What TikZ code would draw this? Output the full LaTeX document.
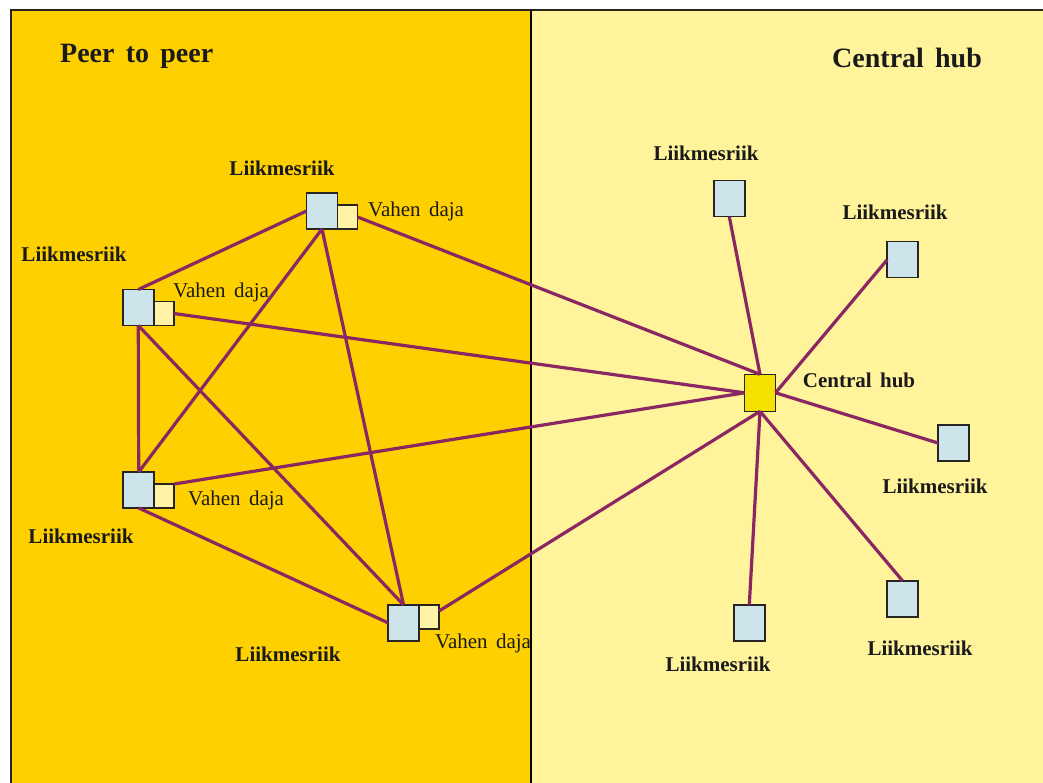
\documentclass[tikz,border=0pt]{standalone}
\usepackage{fontspec}
\setmainfont{Liberation Serif}[WordSpace=1.6]
\usepackage{tikz}
\usetikzlibrary{positioning}
\definecolor{panelgold}{RGB}{255,208,0}
\definecolor{panelpale}{RGB}{255,243,155}
\definecolor{boxblue}{RGB}{205,228,235}
\definecolor{gatecream}{RGB}{255,243,165}
\definecolor{hubyellow}{RGB}{245,225,0}
\definecolor{linkpurple}{RGB}{138,38,98}
\definecolor{edgegray}{RGB}{40,36,36}
\definecolor{inkdark}{RGB}{26,26,26}

\begin{document}
\begin{tikzpicture}[
    x=1pt, y=-1pt,
    member/.style={draw=edgegray, line width=1.6pt, fill=boxblue,
      minimum width=31pt, minimum height=36pt, inner sep=0pt, outer sep=0pt},
    gateway/.style={draw=edgegray, line width=1.6pt, fill=gatecream,
      minimum width=20pt, minimum height=24pt, inner sep=0pt, outer sep=0pt},
    hubbox/.style={member, fill=hubyellow, minimum height=37pt},
    link/.style={linkpurple, line width=3.2pt},
    tag/.style={font=\fontsize{21}{24}\selectfont\bfseries, text=inkdark,
      inner sep=0pt, anchor=base},
    gatetag/.style={font=\fontsize{21}{24}\selectfont, text=inkdark,
      inner sep=0pt, anchor=base west},
    paneltitle/.style={font=\fontsize{28}{32}\selectfont\bfseries, text=inkdark,
      inner sep=0pt, anchor=base west}
    ]

    \useasboundingbox (0,0) rectangle (1043,783);
    \fill[white] (0,0) rectangle (1043,783);
    \fill[panelgold] (11,10) rectangle (531,783);
    \fill[panelpale] (531,10) rectangle (1043,783);
    \draw[edgegray, line width=1.5pt] (11,783) -- (11,10) -- (1043,10);
    \draw[black, line width=2.5pt] (531,10) -- (531,783);

    \node[paneltitle] (p2p) at (60,63) {Peer to peer};
    \node[paneltitle] (hubtitle) at (832,68) {Central hub};

    % peer to peer
    \node[member] (A) at (322,211) {};
    \node[gateway, anchor=south west] (Ay) at (A.south east) {};
    \node[member] (B) at (138.3,307.5) {};
    \node[gateway, anchor=south west] (By) at (B.south east) {};
    \node[member] (C) at (138.7,490) {};
    \node[gateway, anchor=south west] (Cy) at (C.south east) {};
    \node[member] (D) at (403.5,622.8) {};
    \node[gateway, anchor=north west] (Dy) at (D.north east) {};

    \node[tag] (Alab) at (282,176) {Liikmesriik};
    \node[tag] (Blab) at (74,262) {Liikmesriik};
    \node[tag] (Clab) at (81,543) {Liikmesriik};
    \node[tag] (Dlab) at (288,661) {Liikmesriik};

    \node[gatetag] (Agate) at (368,217) {Vahen daja};
    \node[gatetag] (Bgate) at (173,298) {Vahen daja};
    \node[gatetag] (Cgate) at (188,505) {Vahen daja};
    \node[gatetag] (Dgate) at (435,648) {Vahen daja};

    % central hub
    \node[hubbox] (hub) at (760,392.8) {};
    \node[tag] (hublab) at (859,387) {Central hub};

    \node[member] (s1) at (729.3,198.7) {};
    \node[member] (s2) at (902.7,259.7) {};
    \node[member] (s3) at (953.5,443) {};
    \node[member] (s4) at (902.5,598.8) {};
    \node[member] (s5) at (749.3,623) {};

    \node[tag] (s1lab) at (706,161) {Liikmesriik};
    \node[tag] (s2lab) at (895,220) {Liikmesriik};
    \node[tag] (s3lab) at (935,493) {Liikmesriik};
    \node[tag] (s4lab) at (920,655) {Liikmesriik};
    \node[tag] (s5lab) at (718,671) {Liikmesriik};

    \draw[link] (A.west) -- (B.north);
    \draw[link] (A.south) -- (C.north);
    \draw[link] (A.south) -- (D.north);
    \draw[link] (B.south) -- (C.north);
    \draw[link] (B.south) -- (D.north);
    \draw[link] (C.south) -- (D.west);

    \draw[link] (Ay.east) -- (hub.north);
    \draw[link] (By.east) -- (hub.west);
    \draw[link] (Cy.north east) -- (hub.west);
    \draw[link] (Dy.30) -- (hub.south);

    \draw[link] (s1.south) -- (hub.north);
    \draw[link] (s2.west) -- (hub.east);
    \draw[link] (s3.west) -- (hub.east);
    \draw[link] (s4.north) -- (hub.south);
    \draw[link] (s5.north) -- (hub.south);

\end{tikzpicture}
\end{document}
